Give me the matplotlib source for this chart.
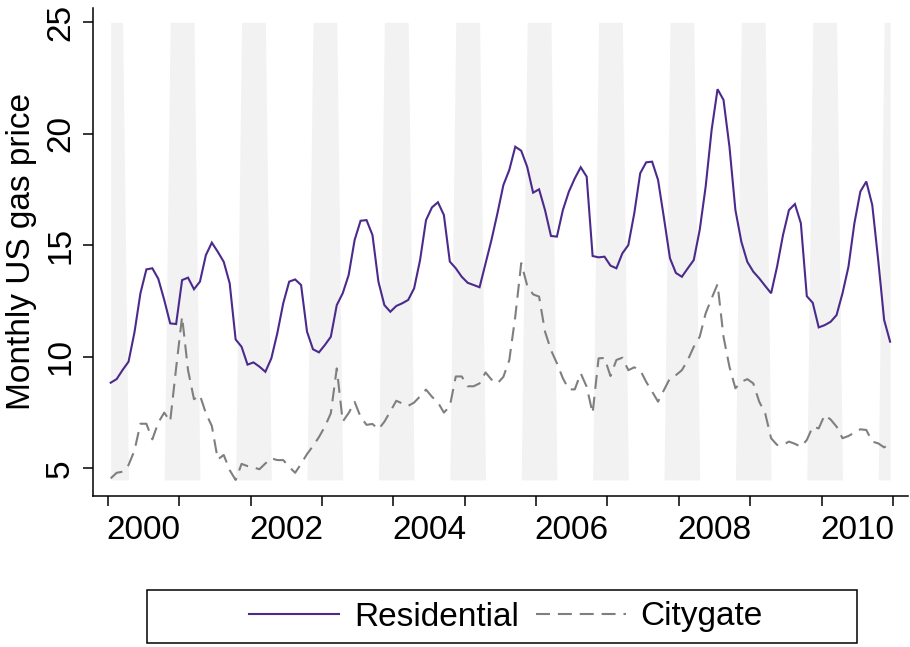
import numpy as np
import matplotlib
matplotlib.use("Agg")
import matplotlib.pyplot as plt
from matplotlib.patches import Rectangle
from matplotlib.lines import Line2D

plt.rcParams['font.family'] = ['Liberation Sans', 'DejaVu Sans']

years = list(range(2000, 2011))
months = list(range(1, 13))

residential = [
    8.84, 9.00, 9.41, 9.78, 11.10, 12.85, 13.92, 13.97, 13.50, 12.55, 11.50, 11.47,
    13.44, 13.55, 13.03, 13.37, 14.56, 15.12, 14.71, 14.26, 13.30, 10.78, 10.45, 9.65,
    9.75, 9.56, 9.33, 9.93, 11.05, 12.40, 13.37, 13.47, 13.22, 11.13, 10.34, 10.20,
    10.53, 10.90, 12.32, 12.85, 13.67, 15.24, 16.10, 16.13, 15.46, 13.37, 12.32, 12.02,
    12.28, 12.40, 12.55, 13.07, 14.34, 16.13, 16.70, 16.93, 16.36, 14.27, 13.97, 13.59,
    13.32, 13.22, 13.12, 14.19, 15.24, 16.43, 17.70, 18.38, 19.42, 19.24, 18.52, 17.36,
    17.51, 16.58, 15.42, 15.39, 16.58, 17.40, 18.00, 18.50, 18.08, 14.52, 14.46, 14.49,
    14.09, 13.97, 14.64, 15.01, 16.43, 18.23, 18.72, 18.75, 17.93, 16.21, 14.42, 13.76,
    13.59, 13.97, 14.34, 15.69, 17.63, 20.17, 22.00, 21.52, 19.42, 16.58, 15.16, 14.26,
    13.82, 13.52, 13.18, 12.85, 14.04, 15.46, 16.58, 16.85, 15.99, 12.72, 12.42, 11.32,
    11.42, 11.57, 11.87, 12.85, 14.04, 15.99, 17.41, 17.86, 16.81, 14.34, 11.65, 10.68,
]

citygate = [
    4.55, 4.80, 4.85, 5.15, 5.80, 7.00, 7.00, 6.30, 7.05, 7.50, 7.10, 9.50,
    11.80, 9.40, 8.10, 8.28, 7.47, 6.90, 5.40, 5.60, 4.92, 4.48, 5.20, 5.10,
    5.04, 4.96, 5.22, 5.45, 5.37, 5.37, 5.07, 4.80, 5.20, 5.64, 6.00, 6.40,
    6.87, 7.47, 9.48, 7.10, 7.48, 7.98, 7.31, 6.95, 6.99, 6.75, 7.09, 7.55,
    8.03, 7.91, 7.80, 7.95, 8.23, 8.53, 8.21, 7.96, 7.50, 7.78, 9.12, 9.12,
    8.68, 8.68, 8.81, 9.30, 8.98, 8.81, 9.10, 9.86, 11.80, 14.20, 13.20, 12.80,
    12.70, 11.13, 10.30, 9.71, 9.04, 8.54, 8.54, 9.26, 8.66, 7.47, 9.93, 9.95,
    9.14, 9.86, 9.96, 9.40, 9.53, 9.40, 8.88, 8.44, 7.99, 8.51, 9.04, 9.18,
    9.40, 9.86, 10.45, 10.90, 11.95, 12.62, 13.26, 10.90, 9.55, 8.59, 8.88, 9.00,
    8.81, 7.99, 7.47, 6.35, 6.05, 6.05, 6.20, 6.10, 5.97, 6.27, 6.87, 6.79,
    7.39, 7.19, 6.87, 6.35, 6.45, 6.60, 6.75, 6.72, 6.20, 6.12, 5.94, 6.12,
]

winter_months = [11, 12, 1, 2, 3]
band_low, band_high = 4.48, 25

yticks = [5, 10, 15, 20, 25]
xlabels = [2000, 2002, 2004, 2006, 2008, 2010]
ylabel = "Monthly US gas price"
series_names = ["Residential", "Citygate"]

# monthly time axis (mid-month)
t = np.array([y + (m - 0.5) / 12 for y in years for m in months])
mon = np.array([m for y in years for m in months])
band = np.where(np.isin(mon, winter_months), band_high, band_low)

W, H = 910, 647
fig = plt.figure(figsize=(W / 100, H / 100), dpi=100)
ax = fig.add_axes([93 / W, 1 - 496 / H, (908 - 93) / W, (496 - 8) / H])

DASH = (6.7, 3.8)
ax.fill_between(t, band_low, band, color='#f2f2f2', linewidth=0, zorder=1)
ax.plot(t, residential, color='#4b2a8c', lw=1.5, zorder=3,
        solid_joinstyle='miter')
ax.plot(t, citygate, color='#7f7f7f', lw=1.5, dashes=DASH, zorder=3)

ax.set_xlim(1999.794, 2011.209)
ax.set_ylim(3.76, 25.64)

for s in ['top', 'right']:
    ax.spines[s].set_visible(False)
for s in ['left', 'bottom']:
    ax.spines[s].set_linewidth(1.1)
    ax.spines[s].set_color('black')

ax.set_yticks(yticks)
ax.set_yticklabels([str(v) for v in yticks], rotation=90, va='center',
                   fontsize=24)
ax.tick_params(axis='y', length=7.2, width=1.1, pad=5)

ax.set_xticks([y + 0.5 for y in xlabels])
ax.set_xticklabels([str(v) for v in xlabels], fontsize=24)
ax.set_xticks(list(range(2000, 2012)), minor=True)
ax.tick_params(axis='x', which='major', length=0, pad=14)
ax.tick_params(axis='x', which='minor', length=7.2, width=1.1)

ax.set_ylabel(ylabel, fontsize=24, labelpad=6)

# legend box
fig.patches.append(Rectangle((147 / W, 1 - 643 / H), (857 - 147) / W,
                             (643 - 590) / H, transform=fig.transFigure,
                             fill=False, edgecolor='black', linewidth=1.1))
handles = [Line2D([], [], color='#4b2a8c', lw=1.5),
           Line2D([], [], color='#7f7f7f', lw=1.5, dashes=DASH)]
fig.legend(handles, series_names, loc='center', ncol=2,
           bbox_to_anchor=(506 / W, 1 - 617 / H), frameon=False,
           fontsize=24, handlelength=2.7, handletextpad=0.45,
           columnspacing=0.5, borderpad=0)

fig.savefig('out.png', dpi=100)
